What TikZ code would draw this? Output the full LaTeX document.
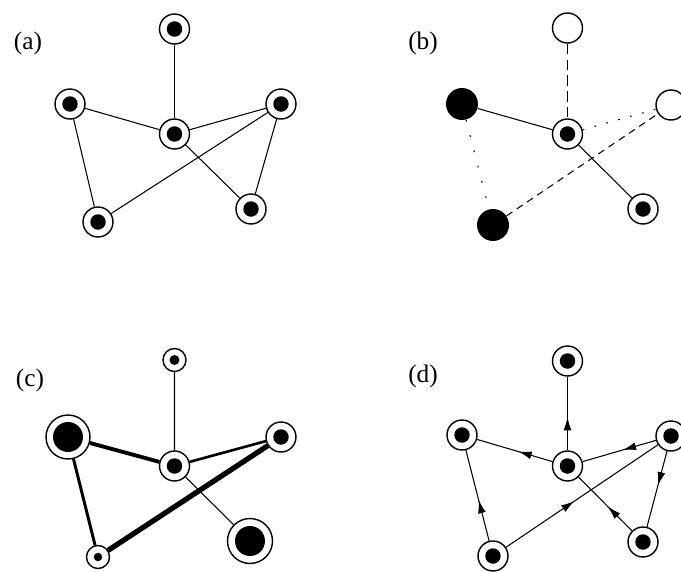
\documentclass[tikz,border=0pt]{standalone}
\usepackage{fontspec}
\setmainfont{Liberation Serif}
\usetikzlibrary{arrows.meta,decorations.markings}

\begin{document}
\begin{tikzpicture}[x=0.02cm, y=-0.02cm,
    agent/.style 2 args={circle, draw, line width=0.8pt, minimum size=#1, inner sep=0pt,
        path picture={\fill (path picture bounding box.center) circle (#2);}},
    std/.style={agent={0.6cm}{0.155cm}},
    gone/.style={circle, draw, line width=0.8pt, minimum size=0.6cm, inner sep=0pt},
    solo/.style={circle, fill, minimum size=0.64cm, inner sep=0pt},
    link/.style={line width=0.6pt},
    mid/.style={link, postaction={decorate}, decoration={markings,
        mark=at position 0.45 with {\arrow{Latex[length=7.5pt,width=4.5pt]}}}},
    tag/.style={font=\Large}]
    \useasboundingbox (0,0) rectangle (681,572);

    % (a)
    \node[tag] (la) at (28,43) {(a)};
    \node[std] (a1) at (174.5,29) {};
    \node[std] (a2) at (70,104) {};
    \node[std] (a3) at (174.5,134) {};
    \node[std] (a4) at (281,104) {};
    \node[std] (a5) at (98,222) {};
    \node[std] (a6) at (251,209) {};
    \draw[link] (a1) -- (a3);
    \draw[link] (a2) -- (a3) -- (a4);
    \draw[link] (a3) -- (a6) -- (a4) -- (a5) -- (a2);

    % (b)
    \node[tag] (lb) at (423,43) {(b)};
    \node[gone] (b1) at (567.5,28) {};
    \node[solo] (b2) at (462,104) {};
    \node[std] (b3) at (567.5,134) {};
    \node[gone] (b4) at (671,105) {};
    \node[solo] (b5) at (493,225) {};
    \node[std] (b6) at (643,209) {};
    \draw[link] (b2) -- (b3) -- (b6);
    \draw[link, dash pattern=on 6pt off 3pt] (b1) -- (b3);
    \draw[link, dash pattern=on 4pt off 3pt] (b5) -- (b4);
    \draw[link, dash pattern=on 1pt off 8pt] (b2) -- (b5);
    \draw[link, dash pattern=on 1pt off 6pt] (b3) -- (b4);

    % (c)
    \node[tag] (lc) at (30,380) {(c)};
    \node[agent={0.46cm}{0.1cm}] (c1) at (174.5,360) {};
    \node[agent={0.88cm}{0.3cm}] (c2) at (68,437) {};
    \node[std] (c3) at (174.5,466) {};
    \node[std] (c4) at (281,437) {};
    \node[agent={0.46cm}{0.085cm}] (c5) at (98,557) {};
    \node[agent={0.9cm}{0.3cm}] (c6) at (250,541) {};
    \draw[link] (c1) -- (c3) -- (c6);
    \draw[line width=2.2pt] (c2) -- (c3);
    \draw[line width=1.5pt] (c3) -- (c4);
    \draw[line width=1.7pt] (c2) -- (c5);
    \draw[line width=3pt] (c5) -- (c4);

    % (d)
    \node[tag] (ld) at (423,376) {(d)};
    \node[std] (d1) at (567.5,361) {};
    \node[std] (d2) at (462,435) {};
    \node[std] (d3) at (567.5,466) {};
    \node[std] (d4) at (671,436) {};
    \node[std] (d5) at (493,556) {};
    \node[std] (d6) at (643,542) {};
    \draw[mid] (d3) -- (d1);
    \draw[mid] (d3) -- (d2);
    \draw[mid] (d4) -- (d3);
    \draw[mid] (d5) -- (d2);
    \draw[mid] (d5) -- (d4);
    \draw[mid] (d6) -- (d3);
    \draw[mid] (d4) -- (d6);
\end{tikzpicture}
\end{document}
